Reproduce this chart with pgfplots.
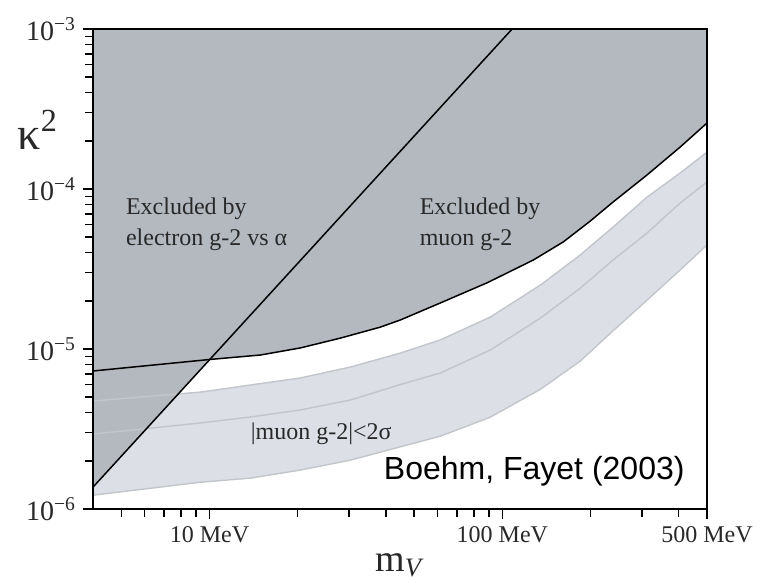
\documentclass[border=0pt]{standalone}
\usepackage{pgfplots}
\pgfplotsset{compat=1.18}
\usepgfplotslibrary{fillbetween}
\usepackage{pgfplotstable}
\usepackage{fontspec}
\setmainfont{Liberation Serif}
\newfontfamily\arialfont{Liberation Sans}

\definecolor{exclGray}{RGB}{180,185,191}
\definecolor{bandFill}{RGB}{220,223,229}
\definecolor{bandLine}{RGB}{194,198,203}
\definecolor{txtGray}{RGB}{40,40,40}

% muon g-2 band: upper edge, central line, lower edge
\pgfplotstableread{
m      k
4      4.73e-6
9.32   5.38e-6
13.8   5.96e-6
20.4   6.59e-6
30.3   7.72e-6
44.9   9.44e-6
61.4   1.14e-5
91.0   1.585e-5
134.9  2.51e-5
184.5  3.87e-5
239    5.79e-5
312    8.9e-5
405    1.26e-4
500    1.70e-4
}\bandup
\pgfplotstableread{
m      k
4      2.94e-6
9.32   3.45e-6
13.8   3.76e-6
20.4   4.16e-6
30.3   4.80e-6
44.9   6.0e-6
61.4   7.08e-6
91.0   9.86e-6
134.9  1.56e-5
184.5  2.40e-5
239    3.6e-5
312    5.31e-5
405    8.18e-5
500    1.107e-4
}\bandmid
\pgfplotstableread{
m      k
4      1.22e-6
9.32   1.47e-6
13.8   1.56e-6
20.4   1.75e-6
30.3   2.02e-6
44.9   2.45e-6
61.4   2.85e-6
91.0   3.75e-6
134.9  5.6e-6
184.5  8.4e-6
239    1.3e-5
312    2.02e-5
405    3.12e-5
500    4.47e-5
}\bandlo
% muon g-2 exclusion limit
\pgfplotstableread{
m      k
4      7.29e-6
10     8.6e-6
14.9   9.17e-6
20.4   1.015e-5
28.0   1.17e-5
38.3   1.37e-5
44.9   1.52e-5
61.4   1.94e-5
89.0   2.6e-5
127.6  3.6e-5
161.5  4.67e-5
199.6  6.3e-5
239    8.3e-5
312    1.224e-4
405    1.83e-4
500    2.585e-4
}\muon
% excluded region (union of both limits)
\pgfplotstableread{
m      k
4      1.37e-6
10     8.6e-6
14.9   9.17e-6
20.4   1.015e-5
28.0   1.17e-5
38.3   1.37e-5
44.9   1.52e-5
61.4   1.94e-5
89.0   2.6e-5
127.6  3.6e-5
161.5  4.67e-5
199.6  6.3e-5
239    8.3e-5
312    1.224e-4
405    1.83e-4
500    2.585e-4
500    1e-3
4      1e-3
4      1.37e-6
}\excl
% electron g-2 vs alpha limit
\pgfplotstableread{
m      k
4      1.37e-6
108    1e-3
}\electron

\begin{document}
\begin{tikzpicture}
\begin{axis}[
  scale only axis,
  width=307pt, height=240pt,
  xmode=log, ymode=log,
  xmin=4, xmax=500, ymin=1e-6, ymax=1e-3,
  axis on top,
  axis line style={line width=0.9pt, black},
  tick align=outside, tick pos=left,
  major tick length=5pt, minor tick length=4pt,
  tick style={line width=0.8pt, black},
  xtick={10,100,500},
  xticklabels={10 MeV,100 MeV,500 MeV},
  minor xtick={5,6,7,8,9,20,30,40,50,60,70,80,90,200,300,400},
  ytick={1e-6,1e-5,1e-4,1e-3},
  yticklabels={10\textsuperscript{−6},10\textsuperscript{−5},10\textsuperscript{−4},10\textsuperscript{−3}},
  minor ytick={2e-6,3e-6,4e-6,5e-6,6e-6,7e-6,8e-6,9e-6,
               2e-5,3e-5,4e-5,5e-5,6e-5,7e-5,8e-5,9e-5,
               2e-4,3e-4,4e-4,5e-4,6e-4,7e-4,8e-4,9e-4},
  tick label style={text=txtGray},
  xticklabel style={font=\fontsize{12}{14}\selectfont},
  yticklabel style={font=\fontsize{14}{16}\selectfont},
  xlabel={m\textsubscript{\textit{V}}},
  ylabel={κ\textsuperscript{2}},
  xlabel style={at={(axis description cs:0.5,-0.117)}, anchor=center,
                font=\fontsize{19}{20}\selectfont, text=txtGray},
  ylabel style={at={(axis description cs:-0.09,0.79)}, rotate=-90, anchor=center,
                font=\fontsize{23}{24}\selectfont, text=txtGray},
]

% band (drawn first, partly hidden by the excluded region)
\addplot[draw=none, name path=up, forget plot] table[x=m, y=k] {\bandup};
\addplot[draw=none, name path=lo, forget plot] table[x=m, y=k] {\bandlo};
\addplot[bandFill, forget plot] fill between[of=up and lo];

% excluded region
\addplot[fill=exclGray, draw=none, forget plot] table[x=m, y=k] {\excl};

% band edges and centre
\addplot[bandLine, line width=0.7pt] table[x=m, y=k] {\bandup};
\addplot[bandLine, line width=0.7pt] table[x=m, y=k] {\bandmid};
\addplot[bandLine, line width=0.7pt] table[x=m, y=k] {\bandlo};

% limits
\addplot[black, line width=0.75pt] table[x=m, y=k] {\muon};
\addplot[black, line width=0.75pt] table[x=m, y=k] {\electron};

% region labels
\node[anchor=north west, align=left, inner sep=0pt, text=txtGray,
      font=\fontsize{12}{15.5}\selectfont]
  at (axis cs:5.17,8.9e-5) {Excluded by\\electron g-2 vs α};
\node[anchor=north west, align=left, inner sep=0pt, text=txtGray,
      font=\fontsize{12}{15.5}\selectfont]
  at (axis cs:52.1,8.9e-5) {Excluded by\\muon g-2};
\node[anchor=base west, inner sep=0pt, text=txtGray,
      font=\fontsize{12}{15}\selectfont]
  at (axis cs:13.8,2.7e-6) {|muon g-2|<2σ};
\node[anchor=base west, inner sep=0pt, text=black,
      font=\arialfont\fontsize{16}{18}\selectfont]
  at (axis cs:39.3,1.52e-6) {Boehm, Fayet (2003)};
\end{axis}
\pgfresetboundingbox
\path (-46.5pt,-38.5pt) rectangle (335pt,254.5pt);
\end{tikzpicture}
\end{document}
